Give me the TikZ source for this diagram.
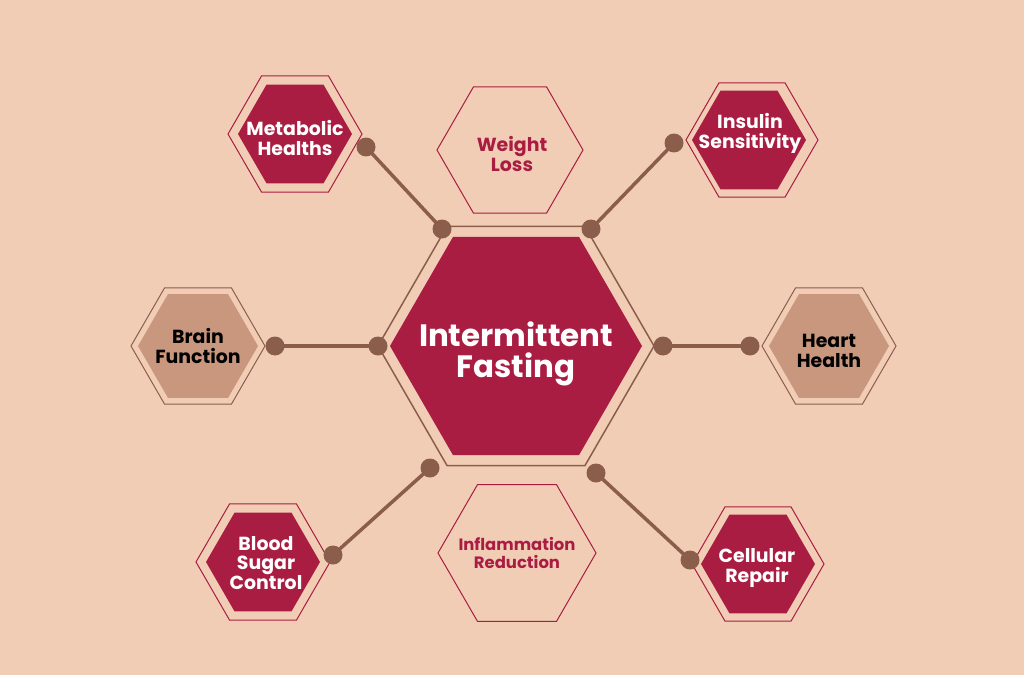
\documentclass[tikz,border=0pt]{standalone}
\usepackage{fontspec}
\setmainfont{Poppins}
\usetikzlibrary{shapes.geometric}
\definecolor{bg}{HTML}{F2CDB6}
\definecolor{crim}{HTML}{A91D42}
\definecolor{tan}{HTML}{C9967E}
\definecolor{brn}{HTML}{8B5E4B}
\begin{document}
\begin{tikzpicture}[x=1bp,y=-1bp,
 hex/.style={regular polygon,regular polygon sides=6,inner sep=0pt,minimum size=2*#1 bp},
 lbl/.style={align=center,font=\bfseries\fontsize{19}{20}\selectfont},
 link/.style={draw=brn,line width=3.5bp},
 dot/.style={circle,fill=brn,inner sep=0pt,minimum size=19bp}]
\fill[bg] (0,0) rectangle (1024,675);
\useasboundingbox (0,0) rectangle (1024,675);
% center
\node[hex=138,draw=brn,line width=1.5bp] (co) at (516,346) {};
\node[hex=126,fill=crim] (ci) at (516,346) {};
\node[lbl,text=white,font=\bfseries\fontsize{31}{31}\selectfont] (ct) at (516,354) {Intermittent\\Fasting};
% satellites
\node[hex=67,draw=crim,line width=1bp] (mo) at (295,134) {};
\node[hex=57,fill=crim] (mi) at (295,134) {};
\node[lbl,text=white] (mt) at (295,138) {Metabolic\\Healths};
\node[hex=73,draw=crim,line width=1bp] (wo) at (510,150) {};
\node[lbl,text=crim] (wt) at (512,154) {Weight\\Loss};
\node[hex=66,draw=crim,line width=1bp] (io) at (752,140) {};
\node[hex=57,fill=crim] (ii) at (749,140) {};
\node[lbl,text=white] (it) at (750,133) {Insulin\\Sensitivity};
\node[hex=67,draw=brn,line width=1bp] (bo) at (198,346) {};
\node[hex=60,fill=tan] (bi) at (198,346) {};
\node[lbl,text=black] (bt) at (198,346) {Brain\\Function};
\node[hex=67,draw=brn,line width=1bp] (ho) at (829,346) {};
\node[hex=60,fill=tan] (hi) at (829,346) {};
\node[lbl,text=black] (ht) at (829,351) {Heart\\Health};
\node[hex=67,draw=crim,line width=1bp] (so) at (263,562) {};
\node[hex=57,fill=crim] (si) at (263,562) {};
\node[lbl,text=white] (st) at (266,563) {Blood\\Sugar\\Control};
\node[hex=79,draw=crim,line width=1bp] (fo) at (517,553) {};
\node[lbl,text=crim,font=\bfseries\fontsize{16.5}{18}\selectfont] (ft) at (517,553) {Inflammation\\Reduction};
\node[hex=66,draw=crim,line width=1bp] (lo) at (758,564) {};
\node[hex=57,fill=crim] (li) at (758,564) {};
\node[lbl,text=white] (lt) at (757,568) {Cellular\\Repair};
% connectors
\node[dot] (a1) at (366,147) {}; \node[dot] (a2) at (442,229) {};
\node[dot] (b1) at (674,143) {}; \node[dot] (b2) at (591,229) {};
\node[dot] (c1) at (275,346) {}; \node[dot] (c2) at (378,346) {};
\node[dot] (d1) at (750,346) {}; \node[dot] (d2) at (663,346) {};
\node[dot] (e1) at (333,555) {}; \node[dot] (e2) at (430,468) {};
\node[dot] (f1) at (690,560) {}; \node[dot] (f2) at (596,473) {};
\draw[link] (a1.center) -- (a2.center);
\draw[link] (b1.center) -- (b2.center);
\draw[link] (c1.center) -- (c2.center);
\draw[link] (d1.center) -- (d2.center);
\draw[link] (e1.center) -- (e2.center);
\draw[link] (f1.center) -- (f2.center);
\end{tikzpicture}
\end{document}
